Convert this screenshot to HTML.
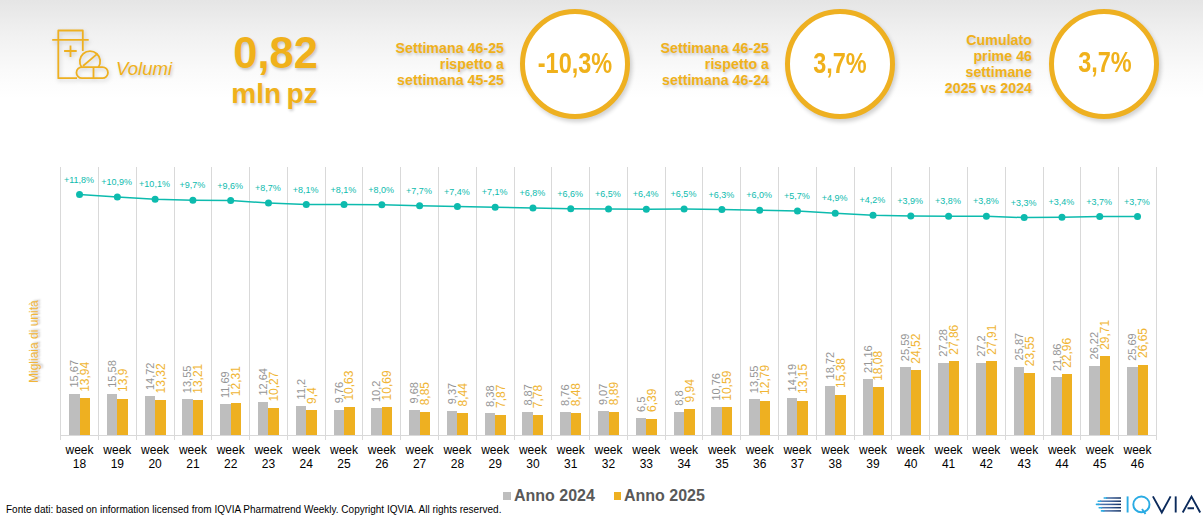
<!DOCTYPE html>
<html><head><meta charset="utf-8">
<style>
html,body{margin:0;padding:0;}
body{width:1203px;height:517px;overflow:hidden;position:relative;background:#fff;font-family:"Liberation Sans",sans-serif;}
.hdr{position:absolute;left:0;top:0;width:1203px;height:140px;background:linear-gradient(#e5e5e5 0px,#f1f1f1 35px,#fafafa 70px,#ffffff 98px);}
.t{position:absolute;white-space:nowrap;color:#F0B11B;font-weight:bold;}
.sh{text-shadow:1px 2px 3px rgba(0,0,0,0.2);}
.blk{position:absolute;text-align:right;font-size:14.25px;line-height:16px;font-weight:bold;color:#F0B11B;white-space:nowrap;text-shadow:1px 2px 3px rgba(0,0,0,0.2);}
.circ{position:absolute;width:110px;height:110px;box-sizing:border-box;border:5px solid #EEB021;border-radius:50%;background:#fff;box-shadow:2px 3px 4px rgba(0,0,0,0.18);}
.ctxt{position:absolute;left:0;top:0;width:100px;text-align:center;font-size:29px;font-weight:bold;color:#F0B11B;line-height:29px;transform:scaleX(0.81);}
svg{position:absolute;left:0;top:0;}
</style></head><body>
<div class="hdr"></div>
<svg width="1203" height="517" viewBox="0 0 1203 517" style="z-index:1;filter:drop-shadow(1px 2px 2px rgba(0,0,0,0.18));">
<g filter="none">
<g fill="none" stroke="#EEB021" stroke-width="1.8" stroke-linejoin="round" stroke-linecap="butt">
<path d="M58.3 39.8 V78.2 H77"/>
<path d="M58.3 39.8 V30.5 H82.8 V39.8"/>
<path d="M52.2 39.8 H88.7"/>
<path d="M82.8 39.8 V51"/>
<path d="M64.1 51 H76.7 M70.5 45.5 V57"/>
<path d="M81.6 67.2 A10.2 10.2 0 1 1 98.4 67.2"/>
<path d="M83 66 L97.5 53.6"/>
<path d="M82 67.1 H102.4 A5.55 5.55 0 0 1 102.4 78.2 H82 A5.55 5.55 0 0 1 82 67.1 Z"/>
<path d="M93.5 67.1 V78.2"/>
</g></g>
</svg>
<div class="t sh" style="left:116px;top:57.7px;font-size:18.6px;font-style:italic;font-weight:normal;">Volumi</div>
<div class="t sh" style="right:885px;top:28.5px;font-size:43.5px;line-height:48px;">0,82</div>
<div class="t sh" style="right:885.5px;top:77.5px;font-size:28px;line-height:32px;word-spacing:-2.5px;">mln pz</div>
<div class="blk" style="right:699px;top:40px;">Settimana 46-25<br>rispetto a<br>settimana 45-25</div>
<div class="circ" style="left:520px;top:9px;"><div class="ctxt" style="top:35px;">-10,3%</div></div>
<div class="blk" style="right:434px;top:40px;">Settimana 46-25<br>rispetto a<br>settimana 46-24</div>
<div class="circ" style="left:785px;top:9px;"><div class="ctxt" style="top:35px;">3,7%</div></div>
<div class="blk" style="right:171px;top:32px;">Cumulato<br>prime 46<br>settimane<br>2025 vs 2024</div>
<div class="circ" style="left:1049px;top:9px;"><div class="ctxt" style="top:34.3px;left:0.5px;">3,7%</div></div>
<svg width="1203" height="517" viewBox="0 0 1203 517" font-family="Liberation Sans, sans-serif">
<line x1="60.5" y1="167" x2="60.5" y2="440" stroke="#D9D9D9" stroke-width="1"/>
<line x1="98.5" y1="167" x2="98.5" y2="440" stroke="#D9D9D9" stroke-width="1"/>
<line x1="136.5" y1="167" x2="136.5" y2="440" stroke="#D9D9D9" stroke-width="1"/>
<line x1="174.5" y1="167" x2="174.5" y2="440" stroke="#D9D9D9" stroke-width="1"/>
<line x1="211.5" y1="167" x2="211.5" y2="440" stroke="#D9D9D9" stroke-width="1"/>
<line x1="249.5" y1="167" x2="249.5" y2="440" stroke="#D9D9D9" stroke-width="1"/>
<line x1="287.5" y1="167" x2="287.5" y2="440" stroke="#D9D9D9" stroke-width="1"/>
<line x1="325.5" y1="167" x2="325.5" y2="440" stroke="#D9D9D9" stroke-width="1"/>
<line x1="362.5" y1="167" x2="362.5" y2="440" stroke="#D9D9D9" stroke-width="1"/>
<line x1="400.5" y1="167" x2="400.5" y2="440" stroke="#D9D9D9" stroke-width="1"/>
<line x1="438.5" y1="167" x2="438.5" y2="440" stroke="#D9D9D9" stroke-width="1"/>
<line x1="476.5" y1="167" x2="476.5" y2="440" stroke="#D9D9D9" stroke-width="1"/>
<line x1="514.5" y1="167" x2="514.5" y2="440" stroke="#D9D9D9" stroke-width="1"/>
<line x1="551.5" y1="167" x2="551.5" y2="440" stroke="#D9D9D9" stroke-width="1"/>
<line x1="589.5" y1="167" x2="589.5" y2="440" stroke="#D9D9D9" stroke-width="1"/>
<line x1="627.5" y1="167" x2="627.5" y2="440" stroke="#D9D9D9" stroke-width="1"/>
<line x1="665.5" y1="167" x2="665.5" y2="440" stroke="#D9D9D9" stroke-width="1"/>
<line x1="702.5" y1="167" x2="702.5" y2="440" stroke="#D9D9D9" stroke-width="1"/>
<line x1="740.5" y1="167" x2="740.5" y2="440" stroke="#D9D9D9" stroke-width="1"/>
<line x1="778.5" y1="167" x2="778.5" y2="440" stroke="#D9D9D9" stroke-width="1"/>
<line x1="816.5" y1="167" x2="816.5" y2="440" stroke="#D9D9D9" stroke-width="1"/>
<line x1="854.5" y1="167" x2="854.5" y2="440" stroke="#D9D9D9" stroke-width="1"/>
<line x1="891.5" y1="167" x2="891.5" y2="440" stroke="#D9D9D9" stroke-width="1"/>
<line x1="929.5" y1="167" x2="929.5" y2="440" stroke="#D9D9D9" stroke-width="1"/>
<line x1="967.5" y1="167" x2="967.5" y2="440" stroke="#D9D9D9" stroke-width="1"/>
<line x1="1005.5" y1="167" x2="1005.5" y2="440" stroke="#D9D9D9" stroke-width="1"/>
<line x1="1043.5" y1="167" x2="1043.5" y2="440" stroke="#D9D9D9" stroke-width="1"/>
<line x1="1080.5" y1="167" x2="1080.5" y2="440" stroke="#D9D9D9" stroke-width="1"/>
<line x1="1118.5" y1="167" x2="1118.5" y2="440" stroke="#D9D9D9" stroke-width="1"/>
<line x1="1156.5" y1="167" x2="1156.5" y2="440" stroke="#D9D9D9" stroke-width="1"/>
<rect x="69" y="394" width="11" height="41" fill="#BEBEBE"/>
<rect x="80" y="398" width="10" height="37" fill="#EEB021"/>
<text transform="translate(78.09,387.52) rotate(-90)" font-size="11" fill="#959595">15,67</text>
<text transform="translate(88.99,391.82) rotate(-90)" font-size="12" fill="#F0B534">13,94</text>
<text x="79.54" y="453.7" font-size="12" text-anchor="middle" fill="#000">week</text>
<text x="79.54" y="467.8" font-size="12" text-anchor="middle" fill="#000">18</text>
<rect x="107" y="394" width="10" height="41" fill="#BEBEBE"/>
<rect x="117" y="399" width="11" height="36" fill="#EEB021"/>
<text transform="translate(115.88,387.76) rotate(-90)" font-size="11" fill="#959595">15,58</text>
<text transform="translate(126.78,391.93) rotate(-90)" font-size="12" fill="#F0B534">13,9</text>
<text x="117.33" y="453.7" font-size="12" text-anchor="middle" fill="#000">week</text>
<text x="117.33" y="467.8" font-size="12" text-anchor="middle" fill="#000">19</text>
<rect x="145" y="396" width="10" height="39" fill="#BEBEBE"/>
<rect x="155" y="400" width="11" height="35" fill="#EEB021"/>
<text transform="translate(153.66,390.04) rotate(-90)" font-size="11" fill="#959595">14,72</text>
<text transform="translate(164.56,393.47) rotate(-90)" font-size="12" fill="#F0B534">13,32</text>
<text x="155.11" y="453.7" font-size="12" text-anchor="middle" fill="#000">week</text>
<text x="155.11" y="467.8" font-size="12" text-anchor="middle" fill="#000">20</text>
<rect x="182" y="399" width="11" height="36" fill="#BEBEBE"/>
<rect x="193" y="400" width="10" height="35" fill="#EEB021"/>
<text transform="translate(191.45,393.16) rotate(-90)" font-size="11" fill="#959595">13,55</text>
<text transform="translate(202.35,393.76) rotate(-90)" font-size="12" fill="#F0B534">13,21</text>
<text x="192.90" y="453.7" font-size="12" text-anchor="middle" fill="#000">week</text>
<text x="192.90" y="467.8" font-size="12" text-anchor="middle" fill="#000">21</text>
<rect x="220" y="404" width="11" height="31" fill="#BEBEBE"/>
<rect x="231" y="403" width="10" height="32" fill="#EEB021"/>
<text transform="translate(229.23,398.10) rotate(-90)" font-size="11" fill="#959595">11,69</text>
<text transform="translate(240.13,396.16) rotate(-90)" font-size="12" fill="#F0B534">12,31</text>
<text x="230.68" y="453.7" font-size="12" text-anchor="middle" fill="#000">week</text>
<text x="230.68" y="467.8" font-size="12" text-anchor="middle" fill="#000">22</text>
<rect x="258" y="402" width="10" height="33" fill="#BEBEBE"/>
<rect x="268" y="408" width="11" height="27" fill="#EEB021"/>
<text transform="translate(267.02,395.58) rotate(-90)" font-size="11" fill="#959595">12,64</text>
<text transform="translate(277.92,401.58) rotate(-90)" font-size="12" fill="#F0B534">10,27</text>
<text x="268.47" y="453.7" font-size="12" text-anchor="middle" fill="#000">week</text>
<text x="268.47" y="467.8" font-size="12" text-anchor="middle" fill="#000">23</text>
<rect x="296" y="406" width="10" height="29" fill="#BEBEBE"/>
<rect x="306" y="410" width="11" height="25" fill="#EEB021"/>
<text transform="translate(304.80,399.41) rotate(-90)" font-size="11" fill="#959595">11,2</text>
<text transform="translate(315.70,403.90) rotate(-90)" font-size="12" fill="#F0B534">9,4</text>
<text x="306.25" y="453.7" font-size="12" text-anchor="middle" fill="#000">week</text>
<text x="306.25" y="467.8" font-size="12" text-anchor="middle" fill="#000">24</text>
<rect x="334" y="410" width="10" height="25" fill="#BEBEBE"/>
<rect x="344" y="407" width="11" height="28" fill="#EEB021"/>
<text transform="translate(342.59,403.24) rotate(-90)" font-size="11" fill="#959595">9,76</text>
<text transform="translate(353.49,400.62) rotate(-90)" font-size="12" fill="#F0B534">10,63</text>
<text x="344.04" y="453.7" font-size="12" text-anchor="middle" fill="#000">week</text>
<text x="344.04" y="467.8" font-size="12" text-anchor="middle" fill="#000">25</text>
<rect x="371" y="408" width="11" height="27" fill="#BEBEBE"/>
<rect x="382" y="407" width="10" height="28" fill="#EEB021"/>
<text transform="translate(380.37,402.07) rotate(-90)" font-size="11" fill="#959595">10,2</text>
<text transform="translate(391.27,400.46) rotate(-90)" font-size="12" fill="#F0B534">10,69</text>
<text x="381.82" y="453.7" font-size="12" text-anchor="middle" fill="#000">week</text>
<text x="381.82" y="467.8" font-size="12" text-anchor="middle" fill="#000">26</text>
<rect x="409" y="410" width="11" height="25" fill="#BEBEBE"/>
<rect x="420" y="412" width="10" height="23" fill="#EEB021"/>
<text transform="translate(418.16,403.45) rotate(-90)" font-size="11" fill="#959595">9,68</text>
<text transform="translate(429.06,405.36) rotate(-90)" font-size="12" fill="#F0B534">8,85</text>
<text x="419.61" y="453.7" font-size="12" text-anchor="middle" fill="#000">week</text>
<text x="419.61" y="467.8" font-size="12" text-anchor="middle" fill="#000">27</text>
<rect x="447" y="411" width="10" height="24" fill="#BEBEBE"/>
<rect x="457" y="413" width="11" height="22" fill="#EEB021"/>
<text transform="translate(455.94,404.28) rotate(-90)" font-size="11" fill="#959595">9,37</text>
<text transform="translate(466.84,406.45) rotate(-90)" font-size="12" fill="#F0B534">8,44</text>
<text x="457.39" y="453.7" font-size="12" text-anchor="middle" fill="#000">week</text>
<text x="457.39" y="467.8" font-size="12" text-anchor="middle" fill="#000">28</text>
<rect x="485" y="413" width="10" height="22" fill="#BEBEBE"/>
<rect x="495" y="415" width="11" height="20" fill="#EEB021"/>
<text transform="translate(493.73,406.91) rotate(-90)" font-size="11" fill="#959595">8,38</text>
<text transform="translate(504.63,407.97) rotate(-90)" font-size="12" fill="#F0B534">7,87</text>
<text x="495.18" y="453.7" font-size="12" text-anchor="middle" fill="#000">week</text>
<text x="495.18" y="467.8" font-size="12" text-anchor="middle" fill="#000">29</text>
<rect x="522" y="412" width="11" height="23" fill="#BEBEBE"/>
<rect x="533" y="415" width="10" height="20" fill="#EEB021"/>
<text transform="translate(531.51,405.61) rotate(-90)" font-size="11" fill="#959595">8,87</text>
<text transform="translate(542.41,408.21) rotate(-90)" font-size="12" fill="#F0B534">7,78</text>
<text x="532.96" y="453.7" font-size="12" text-anchor="middle" fill="#000">week</text>
<text x="532.96" y="467.8" font-size="12" text-anchor="middle" fill="#000">30</text>
<rect x="560" y="412" width="11" height="23" fill="#BEBEBE"/>
<rect x="571" y="413" width="10" height="22" fill="#EEB021"/>
<text transform="translate(569.30,405.90) rotate(-90)" font-size="11" fill="#959595">8,76</text>
<text transform="translate(580.20,406.34) rotate(-90)" font-size="12" fill="#F0B534">8,48</text>
<text x="570.75" y="453.7" font-size="12" text-anchor="middle" fill="#000">week</text>
<text x="570.75" y="467.8" font-size="12" text-anchor="middle" fill="#000">31</text>
<rect x="598" y="411" width="11" height="24" fill="#BEBEBE"/>
<rect x="609" y="412" width="10" height="23" fill="#EEB021"/>
<text transform="translate(607.08,405.07) rotate(-90)" font-size="11" fill="#959595">9,07</text>
<text transform="translate(617.98,405.25) rotate(-90)" font-size="12" fill="#F0B534">8,89</text>
<text x="608.53" y="453.7" font-size="12" text-anchor="middle" fill="#000">week</text>
<text x="608.53" y="467.8" font-size="12" text-anchor="middle" fill="#000">32</text>
<rect x="636" y="418" width="10" height="17" fill="#BEBEBE"/>
<rect x="646" y="419" width="11" height="16" fill="#EEB021"/>
<text transform="translate(644.87,411.91) rotate(-90)" font-size="11" fill="#959595">6,5</text>
<text transform="translate(655.77,411.90) rotate(-90)" font-size="12" fill="#F0B534">6,39</text>
<text x="646.32" y="453.7" font-size="12" text-anchor="middle" fill="#000">week</text>
<text x="646.32" y="467.8" font-size="12" text-anchor="middle" fill="#000">33</text>
<rect x="674" y="412" width="10" height="23" fill="#BEBEBE"/>
<rect x="684" y="409" width="11" height="26" fill="#EEB021"/>
<text transform="translate(682.65,405.79) rotate(-90)" font-size="11" fill="#959595">8,8</text>
<text transform="translate(693.55,402.46) rotate(-90)" font-size="12" fill="#F0B534">9,94</text>
<text x="684.10" y="453.7" font-size="12" text-anchor="middle" fill="#000">week</text>
<text x="684.10" y="467.8" font-size="12" text-anchor="middle" fill="#000">34</text>
<rect x="711" y="407" width="11" height="28" fill="#BEBEBE"/>
<rect x="722" y="407" width="10" height="28" fill="#EEB021"/>
<text transform="translate(720.44,400.58) rotate(-90)" font-size="11" fill="#959595">10,76</text>
<text transform="translate(731.34,400.73) rotate(-90)" font-size="12" fill="#F0B534">10,59</text>
<text x="721.89" y="453.7" font-size="12" text-anchor="middle" fill="#000">week</text>
<text x="721.89" y="467.8" font-size="12" text-anchor="middle" fill="#000">35</text>
<rect x="749" y="399" width="11" height="36" fill="#BEBEBE"/>
<rect x="760" y="401" width="10" height="34" fill="#EEB021"/>
<text transform="translate(758.22,393.16) rotate(-90)" font-size="11" fill="#959595">13,55</text>
<text transform="translate(769.12,394.88) rotate(-90)" font-size="12" fill="#F0B534">12,79</text>
<text x="759.67" y="453.7" font-size="12" text-anchor="middle" fill="#000">week</text>
<text x="759.67" y="467.8" font-size="12" text-anchor="middle" fill="#000">36</text>
<rect x="787" y="398" width="10" height="37" fill="#BEBEBE"/>
<rect x="797" y="401" width="11" height="34" fill="#EEB021"/>
<text transform="translate(796.01,391.45) rotate(-90)" font-size="11" fill="#959595">14,19</text>
<text transform="translate(806.91,393.92) rotate(-90)" font-size="12" fill="#F0B534">13,15</text>
<text x="797.46" y="453.7" font-size="12" text-anchor="middle" fill="#000">week</text>
<text x="797.46" y="467.8" font-size="12" text-anchor="middle" fill="#000">37</text>
<rect x="825" y="386" width="10" height="49" fill="#BEBEBE"/>
<rect x="835" y="395" width="11" height="40" fill="#EEB021"/>
<text transform="translate(833.79,379.40) rotate(-90)" font-size="11" fill="#959595">18,72</text>
<text transform="translate(844.69,387.99) rotate(-90)" font-size="12" fill="#F0B534">15,38</text>
<text x="835.24" y="453.7" font-size="12" text-anchor="middle" fill="#000">week</text>
<text x="835.24" y="467.8" font-size="12" text-anchor="middle" fill="#000">38</text>
<rect x="863" y="379" width="10" height="56" fill="#BEBEBE"/>
<rect x="873" y="387" width="11" height="48" fill="#EEB021"/>
<text transform="translate(871.58,372.91) rotate(-90)" font-size="11" fill="#959595">21,16</text>
<text transform="translate(882.48,380.81) rotate(-90)" font-size="12" fill="#F0B534">18,08</text>
<text x="873.03" y="453.7" font-size="12" text-anchor="middle" fill="#000">week</text>
<text x="873.03" y="467.8" font-size="12" text-anchor="middle" fill="#000">39</text>
<rect x="900" y="367" width="11" height="68" fill="#BEBEBE"/>
<rect x="911" y="370" width="10" height="65" fill="#EEB021"/>
<text transform="translate(909.36,361.13) rotate(-90)" font-size="11" fill="#959595">25,59</text>
<text transform="translate(920.26,363.68) rotate(-90)" font-size="12" fill="#F0B534">24,52</text>
<text x="910.81" y="453.7" font-size="12" text-anchor="middle" fill="#000">week</text>
<text x="910.81" y="467.8" font-size="12" text-anchor="middle" fill="#000">40</text>
<rect x="938" y="363" width="11" height="72" fill="#BEBEBE"/>
<rect x="949" y="361" width="10" height="74" fill="#EEB021"/>
<text transform="translate(947.15,356.64) rotate(-90)" font-size="11" fill="#959595">27,28</text>
<text transform="translate(958.05,354.79) rotate(-90)" font-size="12" fill="#F0B534">27,86</text>
<text x="948.60" y="453.7" font-size="12" text-anchor="middle" fill="#000">week</text>
<text x="948.60" y="467.8" font-size="12" text-anchor="middle" fill="#000">41</text>
<rect x="976" y="363" width="10" height="72" fill="#BEBEBE"/>
<rect x="986" y="361" width="11" height="74" fill="#EEB021"/>
<text transform="translate(984.93,356.85) rotate(-90)" font-size="11" fill="#959595">27,2</text>
<text transform="translate(995.83,354.66) rotate(-90)" font-size="12" fill="#F0B534">27,91</text>
<text x="986.38" y="453.7" font-size="12" text-anchor="middle" fill="#000">week</text>
<text x="986.38" y="467.8" font-size="12" text-anchor="middle" fill="#000">42</text>
<rect x="1014" y="367" width="10" height="68" fill="#BEBEBE"/>
<rect x="1024" y="373" width="11" height="62" fill="#EEB021"/>
<text transform="translate(1022.72,360.39) rotate(-90)" font-size="11" fill="#959595">25,87</text>
<text transform="translate(1033.62,366.26) rotate(-90)" font-size="12" fill="#F0B534">23,55</text>
<text x="1024.17" y="453.7" font-size="12" text-anchor="middle" fill="#000">week</text>
<text x="1024.17" y="467.8" font-size="12" text-anchor="middle" fill="#000">43</text>
<rect x="1051" y="377" width="11" height="58" fill="#BEBEBE"/>
<rect x="1062" y="374" width="10" height="61" fill="#EEB021"/>
<text transform="translate(1060.50,371.05) rotate(-90)" font-size="11" fill="#959595">21,86</text>
<text transform="translate(1071.40,367.83) rotate(-90)" font-size="12" fill="#F0B534">22,96</text>
<text x="1061.95" y="453.7" font-size="12" text-anchor="middle" fill="#000">week</text>
<text x="1061.95" y="467.8" font-size="12" text-anchor="middle" fill="#000">44</text>
<rect x="1089" y="366" width="11" height="69" fill="#BEBEBE"/>
<rect x="1100" y="356" width="10" height="79" fill="#EEB021"/>
<text transform="translate(1098.29,359.45) rotate(-90)" font-size="11" fill="#959595">26,22</text>
<text transform="translate(1109.19,349.87) rotate(-90)" font-size="12" fill="#F0B534">29,71</text>
<text x="1099.74" y="453.7" font-size="12" text-anchor="middle" fill="#000">week</text>
<text x="1099.74" y="467.8" font-size="12" text-anchor="middle" fill="#000">45</text>
<rect x="1127" y="367" width="11" height="68" fill="#BEBEBE"/>
<rect x="1138" y="365" width="10" height="70" fill="#EEB021"/>
<text transform="translate(1136.07,360.86) rotate(-90)" font-size="11" fill="#959595">25,69</text>
<text transform="translate(1146.97,358.01) rotate(-90)" font-size="12" fill="#F0B534">26,65</text>
<text x="1137.52" y="453.7" font-size="12" text-anchor="middle" fill="#000">week</text>
<text x="1137.52" y="467.8" font-size="12" text-anchor="middle" fill="#000">46</text>
<line x1="60" y1="435.5" x2="1157" y2="435.5" stroke="#D9D9D9" stroke-width="1"/>
<polyline fill="none" stroke="#0DBBAE" stroke-width="1.5" points="79.54,194.50 117.33,196.95 155.11,199.13 192.90,200.22 230.68,200.49 268.47,202.94 306.25,204.57 344.04,204.57 381.82,204.84 419.61,205.66 457.39,206.47 495.18,207.29 532.96,208.10 570.75,208.65 608.53,208.92 646.32,209.19 684.10,208.92 721.89,209.46 759.67,210.28 797.46,211.10 835.24,213.27 873.03,215.18 910.81,215.99 948.60,216.26 986.38,216.26 1024.17,217.62 1061.95,217.35 1099.74,216.54 1137.52,216.54"/>
<circle cx="79.54" cy="194.50" r="3.5" fill="#0DBBAE"/>
<text x="78.94" y="182.60" font-size="9" text-anchor="middle" fill="#0DBBAE">+11,8%</text>
<circle cx="117.33" cy="196.95" r="3.5" fill="#0DBBAE"/>
<text x="116.73" y="185.05" font-size="9" text-anchor="middle" fill="#0DBBAE">+10,9%</text>
<circle cx="155.11" cy="199.13" r="3.5" fill="#0DBBAE"/>
<text x="154.51" y="187.23" font-size="9" text-anchor="middle" fill="#0DBBAE">+10,1%</text>
<circle cx="192.90" cy="200.22" r="3.5" fill="#0DBBAE"/>
<text x="192.30" y="188.32" font-size="9" text-anchor="middle" fill="#0DBBAE">+9,7%</text>
<circle cx="230.68" cy="200.49" r="3.5" fill="#0DBBAE"/>
<text x="230.08" y="188.59" font-size="9" text-anchor="middle" fill="#0DBBAE">+9,6%</text>
<circle cx="268.47" cy="202.94" r="3.5" fill="#0DBBAE"/>
<text x="267.87" y="191.04" font-size="9" text-anchor="middle" fill="#0DBBAE">+8,7%</text>
<circle cx="306.25" cy="204.57" r="3.5" fill="#0DBBAE"/>
<text x="305.65" y="192.67" font-size="9" text-anchor="middle" fill="#0DBBAE">+8,1%</text>
<circle cx="344.04" cy="204.57" r="3.5" fill="#0DBBAE"/>
<text x="343.44" y="192.67" font-size="9" text-anchor="middle" fill="#0DBBAE">+8,1%</text>
<circle cx="381.82" cy="204.84" r="3.5" fill="#0DBBAE"/>
<text x="381.22" y="192.94" font-size="9" text-anchor="middle" fill="#0DBBAE">+8,0%</text>
<circle cx="419.61" cy="205.66" r="3.5" fill="#0DBBAE"/>
<text x="419.01" y="193.76" font-size="9" text-anchor="middle" fill="#0DBBAE">+7,7%</text>
<circle cx="457.39" cy="206.47" r="3.5" fill="#0DBBAE"/>
<text x="456.79" y="194.57" font-size="9" text-anchor="middle" fill="#0DBBAE">+7,4%</text>
<circle cx="495.18" cy="207.29" r="3.5" fill="#0DBBAE"/>
<text x="494.58" y="195.39" font-size="9" text-anchor="middle" fill="#0DBBAE">+7,1%</text>
<circle cx="532.96" cy="208.10" r="3.5" fill="#0DBBAE"/>
<text x="532.36" y="196.20" font-size="9" text-anchor="middle" fill="#0DBBAE">+6,8%</text>
<circle cx="570.75" cy="208.65" r="3.5" fill="#0DBBAE"/>
<text x="570.15" y="196.75" font-size="9" text-anchor="middle" fill="#0DBBAE">+6,6%</text>
<circle cx="608.53" cy="208.92" r="3.5" fill="#0DBBAE"/>
<text x="607.93" y="197.02" font-size="9" text-anchor="middle" fill="#0DBBAE">+6,5%</text>
<circle cx="646.32" cy="209.19" r="3.5" fill="#0DBBAE"/>
<text x="645.72" y="197.29" font-size="9" text-anchor="middle" fill="#0DBBAE">+6,4%</text>
<circle cx="684.10" cy="208.92" r="3.5" fill="#0DBBAE"/>
<text x="683.50" y="197.02" font-size="9" text-anchor="middle" fill="#0DBBAE">+6,5%</text>
<circle cx="721.89" cy="209.46" r="3.5" fill="#0DBBAE"/>
<text x="721.29" y="197.56" font-size="9" text-anchor="middle" fill="#0DBBAE">+6,3%</text>
<circle cx="759.67" cy="210.28" r="3.5" fill="#0DBBAE"/>
<text x="759.07" y="198.38" font-size="9" text-anchor="middle" fill="#0DBBAE">+6,0%</text>
<circle cx="797.46" cy="211.10" r="3.5" fill="#0DBBAE"/>
<text x="796.86" y="199.20" font-size="9" text-anchor="middle" fill="#0DBBAE">+5,7%</text>
<circle cx="835.24" cy="213.27" r="3.5" fill="#0DBBAE"/>
<text x="834.64" y="201.37" font-size="9" text-anchor="middle" fill="#0DBBAE">+4,9%</text>
<circle cx="873.03" cy="215.18" r="3.5" fill="#0DBBAE"/>
<text x="872.43" y="203.28" font-size="9" text-anchor="middle" fill="#0DBBAE">+4,2%</text>
<circle cx="910.81" cy="215.99" r="3.5" fill="#0DBBAE"/>
<text x="910.21" y="204.09" font-size="9" text-anchor="middle" fill="#0DBBAE">+3,9%</text>
<circle cx="948.60" cy="216.26" r="3.5" fill="#0DBBAE"/>
<text x="948.00" y="204.36" font-size="9" text-anchor="middle" fill="#0DBBAE">+3,8%</text>
<circle cx="986.38" cy="216.26" r="3.5" fill="#0DBBAE"/>
<text x="985.78" y="204.36" font-size="9" text-anchor="middle" fill="#0DBBAE">+3,8%</text>
<circle cx="1024.17" cy="217.62" r="3.5" fill="#0DBBAE"/>
<text x="1023.57" y="205.72" font-size="9" text-anchor="middle" fill="#0DBBAE">+3,3%</text>
<circle cx="1061.95" cy="217.35" r="3.5" fill="#0DBBAE"/>
<text x="1061.35" y="205.45" font-size="9" text-anchor="middle" fill="#0DBBAE">+3,4%</text>
<circle cx="1099.74" cy="216.54" r="3.5" fill="#0DBBAE"/>
<text x="1099.14" y="204.64" font-size="9" text-anchor="middle" fill="#0DBBAE">+3,7%</text>
<circle cx="1137.52" cy="216.54" r="3.5" fill="#0DBBAE"/>
<text x="1136.92" y="204.64" font-size="9" text-anchor="middle" fill="#0DBBAE">+3,7%</text>
</svg>
<div class="t" style="left:27px;top:382.7px;font-size:12px;font-weight:normal;color:#F1B63A;transform-origin:0 0;transform:rotate(-90deg);text-shadow:1px 2px 2px rgba(0,0,0,0.25);line-height:14px;">Migliaia di unità</div>
<div style="position:absolute;left:503px;top:492.3px;width:8px;height:7.5px;background:#BEBEBE;"></div>
<div class="t" style="left:514px;top:485.5px;font-size:16px;line-height:20px;color:#595959;">Anno 2024</div>
<div style="position:absolute;left:613.5px;top:492.3px;width:7.7px;height:7.5px;background:#EEB021;"></div>
<div class="t" style="left:624px;top:485.5px;font-size:16px;line-height:20px;color:#595959;">Anno 2025</div>
<div class="t" style="left:6px;top:504.2px;font-size:10px;line-height:12px;font-weight:normal;color:#000;">Fonte dati: based on information licensed from IQVIA Pharmatrend Weekly. Copyright IQVIA. All rights reserved.</div>
<svg width="1203" height="517" viewBox="0 0 1203 517">
<defs><linearGradient id="lg" x1="1095" x2="1121" y1="0" y2="0" gradientUnits="userSpaceOnUse"><stop offset="0" stop-color="#5D86BE"/><stop offset="0.6" stop-color="#3A5F99"/><stop offset="1" stop-color="#0E2C5E"/></linearGradient></defs>
<g stroke="url(#lg)" stroke-width="1.5">
<line x1="1106" y1="498" x2="1121" y2="498"/>
<line x1="1100" y1="501.2" x2="1121" y2="501.2"/>
<line x1="1098.3" y1="504.4" x2="1121" y2="504.4"/>
<line x1="1101" y1="507.7" x2="1121" y2="507.7"/>
<line x1="1103.3" y1="510.9" x2="1121" y2="510.9"/>
</g>
<g stroke="#2AABE3" stroke-width="1.6" stroke-linecap="round">
<line x1="1104.2" y1="498" x2="1106.5" y2="498"/>
<line x1="1098.2" y1="501.2" x2="1100.5" y2="501.2"/>
<line x1="1096.5" y1="504.4" x2="1098.8" y2="504.4"/>
<line x1="1099.2" y1="507.7" x2="1101.5" y2="507.7"/>
<line x1="1101.5" y1="510.9" x2="1103.8" y2="510.9"/>
</g>
<g fill="none" stroke-width="1.9">
<line x1="1127.6" y1="496.4" x2="1127.6" y2="512.5" stroke="#2AABE3"/>
<ellipse cx="1141.4" cy="504.4" rx="8.1" ry="7.9" stroke="#2AABE3"/>
<line x1="1142" y1="509" x2="1145.5" y2="514" stroke="#2AABE3"/>
<path d="M1152.9 496.4 L1161.8 512.5 L1170.6 496.4" stroke="#0B2A5B"/>
<line x1="1175.7" y1="496.4" x2="1175.7" y2="512.5" stroke="#0B2A5B"/>
<path d="M1182.7 512.5 L1191.5 496.6 L1200.2 512.5 M1187.5 508.2 H1194" stroke="#0B2A5B"/>
</g>
</svg>
</body></html>
